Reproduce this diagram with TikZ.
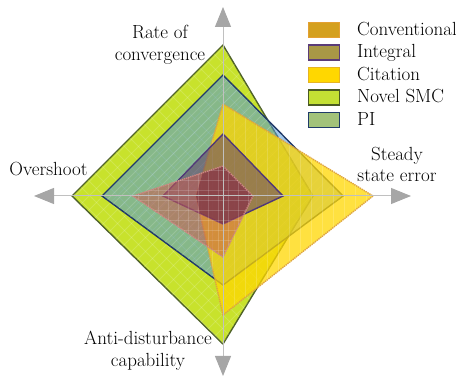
\documentclass[tikz,border=0pt]{standalone}
\usepackage{fontspec}
\usetikzlibrary{arrows.meta}

\definecolor{novelfill}{RGB}{200,226,44}
\definecolor{novelline}{RGB}{79,98,40}
\definecolor{pifill}{RGB}{80,150,215}
\definecolor{piline}{RGB}{31,56,104}
\definecolor{citfill}{RGB}{255,215,0}
\definecolor{citline}{RGB}{222,164,64}
\definecolor{intfill}{RGB}{95,60,110}
\definecolor{intline}{RGB}{80,56,120}
\definecolor{convfill}{RGB}{200,90,80}
\definecolor{convline}{RGB}{205,135,130}
\definecolor{deepfill}{RGB}{20,0,60}
\definecolor{axisgray}{RGB}{192,192,192}
\definecolor{arrowgray}{RGB}{166,166,166}
\definecolor{lgconv}{RGB}{212,160,30}
\definecolor{lgconvl}{RGB}{228,160,50}
\definecolor{lgint}{RGB}{168,152,70}
\definecolor{lgintl}{RGB}{90,60,120}
\definecolor{lgcit}{RGB}{255,215,0}
\definecolor{lgcitl}{RGB}{230,180,34}
\definecolor{lgnov}{RGB}{196,224,52}
\definecolor{lgnovl}{RGB}{74,90,35}
\definecolor{lgpi}{RGB}{162,194,122}
\definecolor{lgpil}{RGB}{31,58,104}

\tikzset{
  novelarea/.style={fill=novelfill,draw=novelline,line width=1.4pt},
  piarea/.style={fill=pifill,fill opacity=0.55,draw=piline,line width=1.4pt},
  citarea/.style={fill=citfill,fill opacity=0.75,draw=citline,line width=1.4pt,dash pattern=on 1.4pt off 0.8pt},
  intarea/.style={fill=intfill,fill opacity=0.55,draw=intline,line width=1.4pt},
  convarea/.style={fill=convfill,fill opacity=0.55,draw=convline,line width=1.4pt,dash pattern=on 1.4pt off 0.8pt},
  texture/.style={draw=white,opacity=0.16,line width=1pt},
  axisline/.style={draw=axisgray,line width=1pt,-{Triangle[length=20pt,width=16pt,color=arrowgray]}},
  lgbox/.style={minimum width=31pt,minimum height=15pt,inner sep=0pt,line width=1.4pt},
  lgtext/.style={anchor=base west,inner sep=0pt},
  axlabel/.style={align=center,inner sep=0pt}
}

\begin{document}
\begin{tikzpicture}[x=1pt,y=-1pt,font=\fontsize{19}{21.7}\selectfont]
\useasboundingbox (0,0) rectangle (456,377);

\coordinate (O) at (223,196);
% Novel SMC
\coordinate (nT) at (223,45);  \coordinate (nR) at (313,196);
\coordinate (nB) at (223,344); \coordinate (nL) at (72,196);
% PI
\coordinate (pT) at (223,75);  \coordinate (pR) at (343,196);
\coordinate (pB) at (223,285); \coordinate (pL) at (102,196);
% Citation
\coordinate (cT) at (223,104); \coordinate (cR) at (373,196);
\coordinate (cB) at (223,315); \coordinate (cL) at (196,196);
% Integral
\coordinate (iT) at (223,134); \coordinate (iR) at (283,196);
\coordinate (iB) at (223,224); \coordinate (iL) at (163,196);
% Conventional
\coordinate (vT) at (223,166); \coordinate (vR) at (253,196);
\coordinate (vB) at (223,257); \coordinate (vL) at (133,196);
% axis tips
\coordinate (tT) at (223,7);   \coordinate (tB) at (223,376);
\coordinate (tL) at (34,196);  \coordinate (tR) at (411,196);

% Novel SMC
\path[novelarea] (nT) -- (nR) -- (nB) -- (nL) -- cycle;
\begin{scope}
  \clip (nT) -- (nR) -- (nB) -- (nL) -- cycle;
  \foreach \k in {-400,-386,...,500} {
    \draw[texture] (\k,0) -- ++(377,377);
    \draw[texture] (\k,377) -- ++(377,-377);
  }
\end{scope}
% PI
\path[piarea] (pT) -- (pR) -- (pB) -- (pL) -- cycle;
\begin{scope}
  \clip (pT) -- (pR) -- (pB) -- (pL) -- cycle;
  \foreach \k in {-400,-390,...,500} {
    \draw[texture] (\k,377) -- ++(377,-377);
  }
\end{scope}
% Citation
\path[citarea] (cT) -- (cR) -- (cB) -- (cL) -- cycle;
\begin{scope}
  \clip (cT) -- (cR) -- (cB) -- (cL) -- cycle;
  \foreach \k in {190,201,...,380} {
    \draw[texture] (\k,90) -- (\k,330);
  }
\end{scope}
% Integral
\path[intarea] (iT) -- (iR) -- (iB) -- (iL) -- cycle;
\begin{scope}
  \clip (vT) -- (vR) -- (vB) -- (vL) -- cycle;
  \clip (iT) -- (iR) -- (iB) -- (iL) -- cycle;
  \fill[deepfill,fill opacity=0.65] (cT) -- (cR) -- (cB) -- (cL) -- cycle;
\end{scope}
% Conventional
\path[convarea] (vT) -- (vR) -- (vB) -- (vL) -- cycle;
\begin{scope}
  \clip (vT) -- (vR) -- (vB) -- (vL) -- cycle;
  \foreach \k in {128,138,...,260} {
    \draw[texture] (\k,160) -- (\k,260);
  }
  \foreach \k in {161,171,...,260} {
    \draw[texture] (128,\k) -- (260,\k);
  }
\end{scope}

\draw[axisline] (O) -- (tT);
\draw[axisline] (O) -- (tB);
\draw[axisline] (O) -- (tL);
\draw[axisline] (O) -- (tR);

\node[axlabel,anchor=north] (lrate) at (160,24.8) {Rate of\\convergence};
\node[axlabel,anchor=base] (lover) at (48.5,176) {Overshoot};
\node[axlabel,anchor=north] (lsteady) at (397,146.8) {Steady\\state error};
\node[axlabel,anchor=north] (lanti) at (148,330.8) {Anti-disturbance\\capability};

\node[lgbox,fill=lgconv,draw=lgconvl] (b1) at (323.8,30) {};
\node[lgbox,fill=lgint,draw=lgintl] (b2) at (323.8,52.5) {};
\node[lgbox,fill=lgcit,draw=lgcitl] (b3) at (323.8,75) {};
\node[lgbox,fill=lgnov,draw=lgnovl] (b4) at (323.8,97.5) {};
\node[lgbox,fill=lgpi,draw=lgpil] (b5) at (323.8,120.3) {};
\node[lgtext] (t1) at (357,35.3) {Conventional};
\node[lgtext] (t2) at (357,57.8) {Integral};
\node[lgtext] (t3) at (357,80.3) {Citation};
\node[lgtext] (t4) at (357,102.8) {Novel SMC};
\node[lgtext] (t5) at (357,125.6) {PI};
\end{tikzpicture}
\end{document}
